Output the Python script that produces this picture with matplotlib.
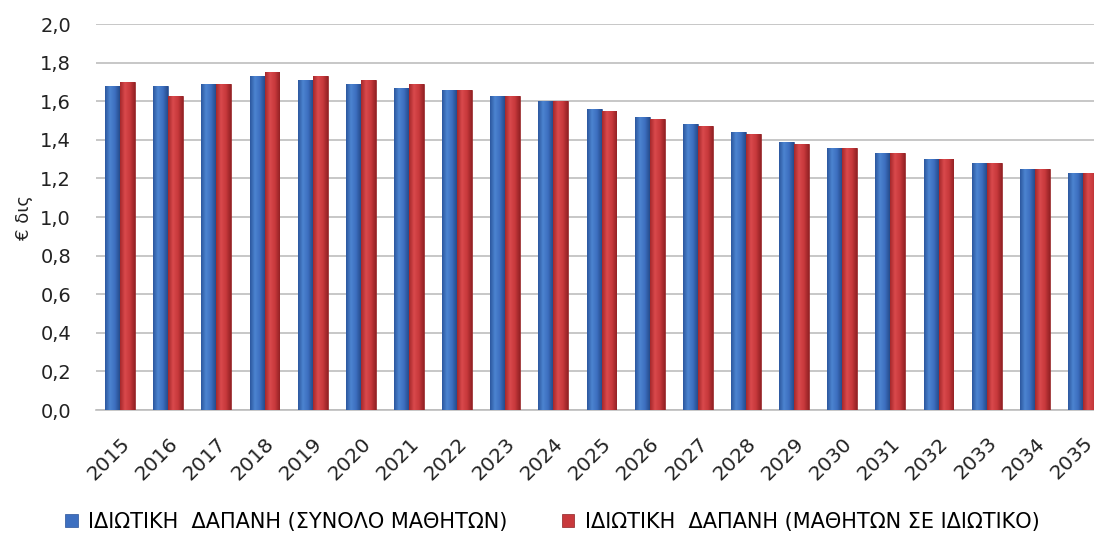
import matplotlib
matplotlib.use("Agg")
import matplotlib.pyplot as plt
from matplotlib.colors import LinearSegmentedColormap
import numpy as np

years = [str(y) for y in range(2015, 2036)]
total_students = [1.68, 1.68, 1.69, 1.73, 1.71, 1.69, 1.67, 1.66, 1.63, 1.60,
                  1.56, 1.52, 1.48, 1.44, 1.39, 1.36, 1.33, 1.30, 1.28, 1.25, 1.23]
private_students = [1.70, 1.63, 1.69, 1.75, 1.73, 1.71, 1.69, 1.66, 1.63, 1.60,
                    1.55, 1.51, 1.47, 1.43, 1.38, 1.36, 1.33, 1.30, 1.28, 1.25, 1.23]
labels = ["ΙΔΙΩΤΙΚΗ  ΔΑΠΑΝΗ (ΣΥΝΟΛΟ ΜΑΘΗΤΩΝ)",
          "ΙΔΙΩΤΙΚΗ  ΔΑΠΑΝΗ (ΜΑΘΗΤΩΝ ΣΕ ΙΔΙΩΤΙΚΟ)"]

plt.rcParams['font.family'] = ['DejaVu Sans']

fig = plt.figure(figsize=(10.94, 5.36), dpi=100)
ax = fig.add_axes([0.0878, 0.235, 0.9122, 0.72])

x = np.arange(len(years))
w = 0.31
b1 = ax.bar(x - w / 2, total_students, w, color="#3D6FC0", edgecolor="#2A5298",
            linewidth=0.5, label=labels[0], zorder=3)
b2 = ax.bar(x + w / 2, private_students, w, color="#C8393C", edgecolor="#8E2224",
            linewidth=0.5, label=labels[1], zorder=3)

# cylinder-like shading on every bar
blue_cm = LinearSegmentedColormap.from_list("b", ["#2C579E", "#4C84D0", "#3D6FC0", "#264C8C"])
red_cm = LinearSegmentedColormap.from_list("r", ["#A5282B", "#D9494C", "#C8393C", "#942225"])
grad = np.linspace(0, 1, 64).reshape(1, -1)
for bars, cm in [(b1, blue_cm), (b2, red_cm)]:
    for r in bars:
        x0, y0 = r.get_x(), r.get_y()
        im = ax.imshow(grad, cmap=cm, aspect="auto", zorder=3.5,
                       extent=(x0, x0 + r.get_width(), y0, y0 + r.get_height()))
        im.set_clip_path(r)

ax.set_ylim(0, 2.0)
ax.set_xlim(-0.5, 20.23)
ax.set_yticks(np.arange(0, 2.01, 0.2))
ax.set_yticklabels([f"{v:.1f}".replace(".", ",") for v in np.arange(0, 2.01, 0.2)],
                   fontsize=14, color="#222222")
ax.set_xticks(x)
ax.set_xticklabels(years, rotation=45, ha="right", rotation_mode="anchor",
                   fontsize=14.5, color="#222222")
ax.tick_params(axis="y", length=0, pad=18)
ax.tick_params(axis="x", length=0, pad=17)
ax.grid(axis="y", color="#BDBDBD", linewidth=1.2, zorder=0)
for s in ["top", "right", "left"]:
    ax.spines[s].set_visible(False)
ax.spines["bottom"].set_color("#BDBDBD")
ax.spines["bottom"].set_linewidth(1.2)
ax.set_ylabel("€ δις", fontsize=13, color="#222222", labelpad=5)

fig.legend(handles=[b1, b2], loc="center", bbox_to_anchor=(0.505, 0.026), ncol=2,
           frameon=False, fontsize=15, handlelength=0.6, handleheight=0.6,
           handletextpad=0.5, columnspacing=2.6)

fig.savefig("out.png", dpi=100)
